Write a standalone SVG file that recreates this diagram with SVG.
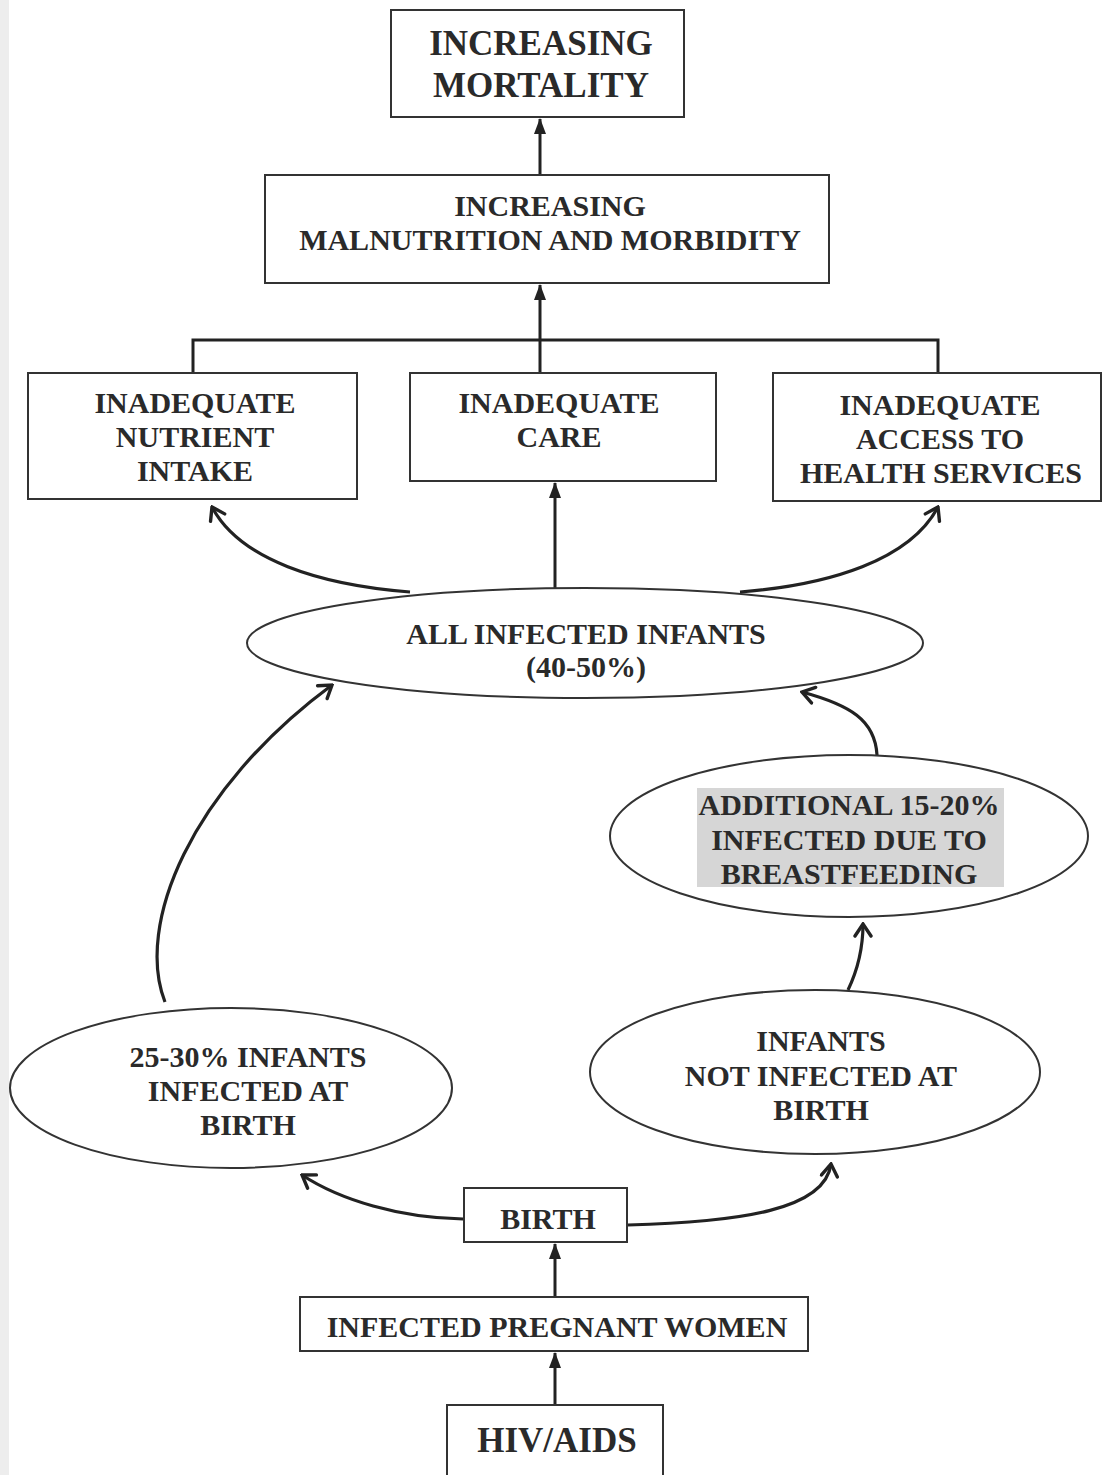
<svg xmlns="http://www.w3.org/2000/svg" width="1102" height="1475" viewBox="0 0 1102 1475">
<style>
.box{fill:#fff;stroke:#333;stroke-width:2}
.ell{fill:#fff;stroke:#333;stroke-width:2}
.t{font-family:"Liberation Serif","Times New Roman",serif;font-weight:bold;font-size:30px;fill:#2a2a2a;text-anchor:middle}
.big{font-size:35px}
.c{fill:none;stroke:#222;stroke-width:3}
.cf{fill:none;stroke:#222;stroke-width:3;marker-end:url(#tri)}
.co{fill:none;stroke:#222;stroke-width:3.2;marker-end:url(#chev)}
</style>
<defs>
<marker id="tri" markerUnits="userSpaceOnUse" viewBox="0 0 16 12" refX="15" refY="6" markerWidth="16" markerHeight="12" orient="auto">
<path d="M0,0 L16,6 L0,12 Z" fill="#222"/>
</marker>
<marker id="chev" markerUnits="userSpaceOnUse" viewBox="-14 -10 16 20" refX="0" refY="0" markerWidth="16" markerHeight="20" orient="auto">
<path d="M-12,-8 L0,0 L-12,8" fill="none" stroke="#222" stroke-width="3.4" stroke-linecap="round" stroke-linejoin="miter"/>
</marker>
</defs>
<rect x="0" y="0" width="1102" height="1475" fill="#fff"/>
<rect x="0" y="0" width="9" height="1475" fill="#ededed"/>

<g id="connectors">
<path class="cf" d="M540,175 L540,119"/>
<path class="c" d="M193,373 L193,340 L938,340 L938,373"/>
<path class="cf" d="M540,373 L540,285"/>
<path class="cf" d="M555,589 L555,483"/>
<path class="co" d="M410,592 C320,585 240,560 212,507"/>
<path class="co" d="M740,592 C830,585 910,560 938,507"/>
<path class="co" d="M165,1002 C135,925 190,790 332,685"/>
<path class="co" d="M877,755 C875,720 850,705 802,692"/>
<path class="co" d="M848,990 C860,965 863,945 863,924"/>
<path class="co" d="M463,1219 C400,1218 340,1200 302,1175"/>
<path class="co" d="M628,1225 C740,1222 825,1210 831,1164"/>
<path class="cf" d="M555,1297 L555,1244"/>
<path class="cf" d="M555,1405 L555,1353"/>
</g>

<g id="mortality">
<rect class="box" x="391" y="10" width="293" height="107"/>
<text class="t big" x="541" y="55">INCREASING</text>
<text class="t big" x="541" y="97">MORTALITY</text>
</g>

<g id="malnutrition">
<rect class="box" x="265" y="175" width="564" height="108"/>
<text class="t" x="550" y="216">INCREASING</text>
<text class="t" x="550" y="250">MALNUTRITION AND MORBIDITY</text>
</g>

<g id="nutrient">
<rect class="box" x="28" y="373" width="329" height="126"/>
<text class="t" x="195" y="413">INADEQUATE</text>
<text class="t" x="195" y="447">NUTRIENT</text>
<text class="t" x="195" y="481">INTAKE</text>
</g>

<g id="care">
<rect class="box" x="410" y="373" width="306" height="108"/>
<text class="t" x="559" y="413">INADEQUATE</text>
<text class="t" x="559" y="447">CARE</text>
</g>

<g id="access">
<rect class="box" x="773" y="373" width="328" height="128"/>
<text class="t" x="940" y="415">INADEQUATE</text>
<text class="t" x="940" y="449">ACCESS TO</text>
<text class="t" x="941" y="483">HEALTH SERVICES</text>
</g>

<g id="all-infected">
<ellipse class="ell" cx="585" cy="643" rx="338" ry="55"/>
<text class="t" x="586" y="644">ALL INFECTED INFANTS</text>
<text class="t" x="586" y="677">(40-50%)</text>
</g>

<g id="additional">
<ellipse class="ell" cx="849" cy="836" rx="239" ry="81"/>
<rect x="697" y="788" width="307" height="99" fill="#d6d6d6"/>
<text class="t" x="849" y="815">ADDITIONAL 15-20%</text>
<text class="t" x="849" y="850">INFECTED DUE TO</text>
<text class="t" x="849" y="884">BREASTFEEDING</text>
</g>

<g id="infected-at-birth">
<ellipse class="ell" cx="231" cy="1088" rx="221" ry="80"/>
<text class="t" x="248" y="1067">25-30% INFANTS</text>
<text class="t" x="248" y="1101">INFECTED AT</text>
<text class="t" x="248" y="1135">BIRTH</text>
</g>

<g id="not-infected">
<ellipse class="ell" cx="815" cy="1072" rx="225" ry="82"/>
<text class="t" x="821" y="1051">INFANTS</text>
<text class="t" x="821" y="1086">NOT INFECTED AT</text>
<text class="t" x="821" y="1120">BIRTH</text>
</g>

<g id="birth">
<rect class="box" x="464" y="1188" width="163" height="54"/>
<text class="t" x="548" y="1229">BIRTH</text>
</g>

<g id="pregnant">
<rect class="box" x="300" y="1297" width="508" height="54"/>
<text class="t" x="557" y="1337">INFECTED PREGNANT WOMEN</text>
</g>

<g id="hiv">
<rect class="box" x="447" y="1405" width="216" height="80"/>
<text class="t big" x="557" y="1452">HIV/AIDS</text>
</g>
</svg>
